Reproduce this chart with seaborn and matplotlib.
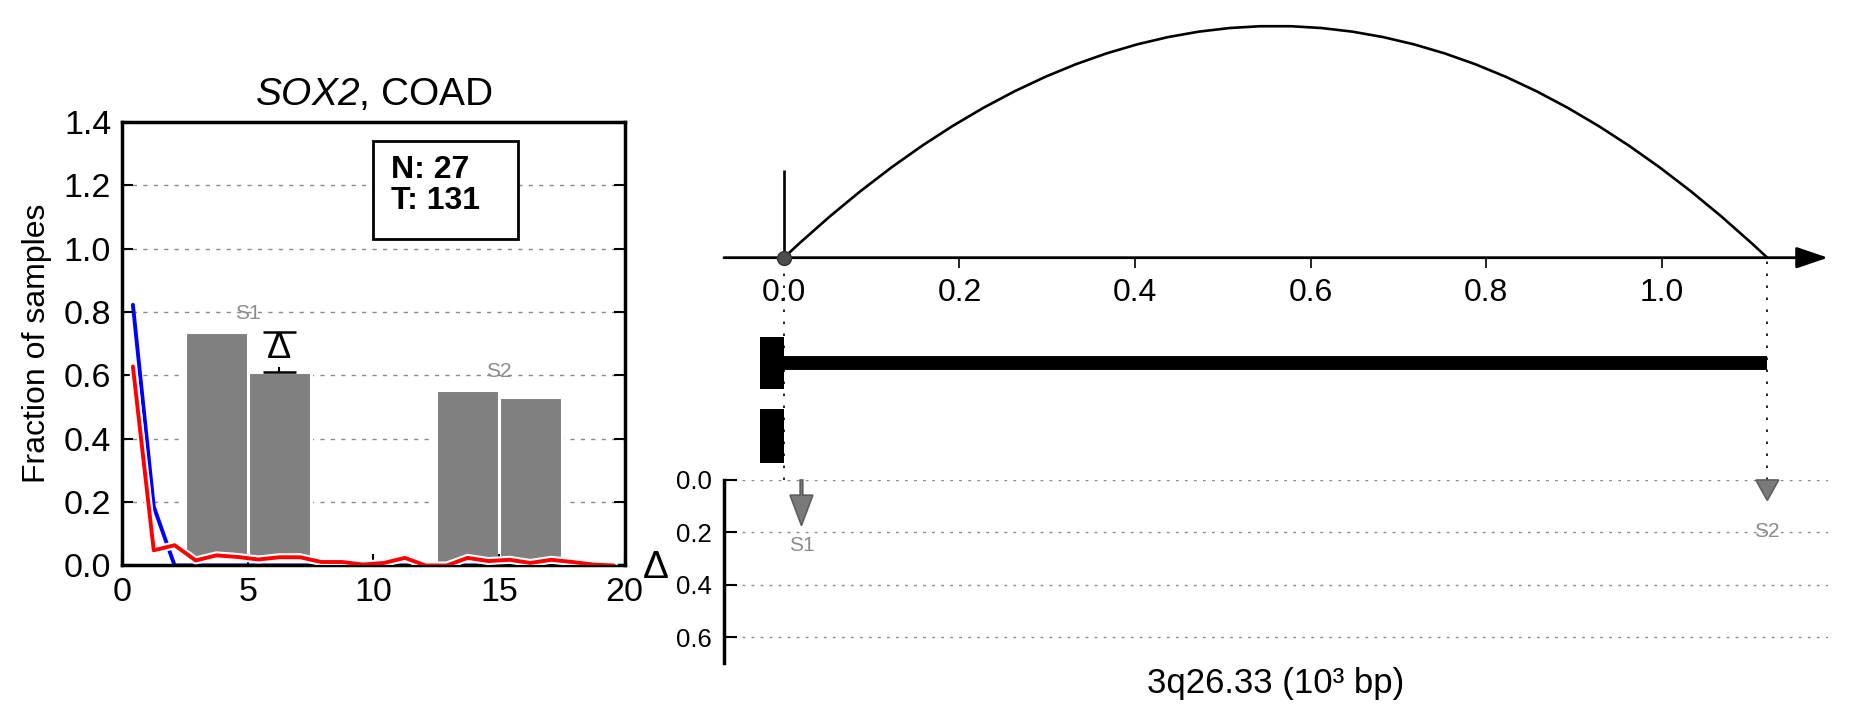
import numpy as np
import pandas as pd
import matplotlib
matplotlib.use("Agg")
import matplotlib.pyplot as plt
import seaborn as sns
from matplotlib.patches import Rectangle, PathPatch, FancyArrow
from matplotlib.path import Path
import matplotlib.patheffects as pe

# ---------------- data ----------------
gene = "SOX2"
cancer = "COAD"
n_normal = 27
n_tumor = 131

cn_bins = [0.42, 1.25, 2.08, 2.92, 3.75, 4.58, 5.42, 6.25, 7.08, 7.92, 8.75, 9.58,
           10.42, 11.25, 12.08, 12.92, 13.75, 14.58, 15.42, 16.25, 17.08, 17.92, 18.75, 19.58]
normal_frac = [0.823, 0.186, 0.0, 0.0, 0.0, 0.0, 0.0, 0.0, 0.0, 0.0, 0.0, 0.0,
               0.0, 0.0, 0.0, 0.0, 0.0, 0.0, 0.0, 0.0, 0.0, 0.0, 0.0, 0.0]
tumor_frac = [0.628, 0.048, 0.064, 0.016, 0.032, 0.027, 0.019, 0.026, 0.026, 0.011, 0.011, 0.003,
              0.008, 0.024, 0.0, 0.0, 0.024, 0.014, 0.018, 0.008, 0.018, 0.011, 0.003, 0.0]

bar_pos = [3.75, 6.25, 13.75, 16.25]
bar_frac = [0.738, 0.612, 0.554, 0.533]
bar_segment = ["S1", "S1", "S2", "S2"]
segments = ["S1", "S2"]
segment_label_x = [5.0, 15.0]
frac_ticks = [0.0, 0.2, 0.4, 0.6, 0.8, 1.0, 1.2, 1.4]

locus = "3q26.33"
axis_ticks_kb = [0.0, 0.2, 0.4, 0.6, 0.8, 1.0]
breakpoints_kb = [0.0, 1.12]
exon_kb = [-0.027, 0.0]
sv_pos_kb = [0.020, 1.12]
sv_delta = [0.174, 0.078]
sv_label_delta = [0.25, 0.197]
delta_ticks = [0.0, 0.2, 0.4, 0.6]

# ---------------- style ----------------
sns.set_theme(style="white")
plt.rcParams.update({
    "font.family": ["Liberation Sans", "DejaVu Sans"],
    "mathtext.fontset": "custom",
    "mathtext.rm": "Liberation Sans:italic",
    "mathtext.it": "Liberation Sans:italic",
    "mathtext.bf": "Liberation Sans:bold",
    "axes.edgecolor": "black",
    "text.color": "black",
    "axes.labelcolor": "black",
    "xtick.color": "black",
    "ytick.color": "black",
})

fig = plt.figure(figsize=(18.51, 7.18), dpi=100)

# ================= left panel =================
axL = fig.add_axes([0.0661, 0.2124, 0.2713, 0.6177])
# dashed horizontal guides (behind everything)
for v in frac_ticks[1:-1]:
    axL.axhline(v, linestyle=(0, (3, 4.5)), color="#8a8a8a", lw=1.0, zorder=0.3)

sns.barplot(x=bar_pos, y=bar_frac, native_scale=True, orient="v", color="#808080",
            saturation=1, width=1.0, edgecolor="white", linewidth=2.2,
            errorbar=None, ax=axL, zorder=1)
cn = np.array(cn_bins)
tf = np.array(tumor_frac)
axL.fill_between(cn, 0, tf, where=cn >= 2.0, color="white", lw=0, zorder=1.5)
sns.lineplot(x=cn_bins, y=normal_frac, color="blue", lw=2.8, ax=axL, zorder=2)
sns.lineplot(x=cn_bins, y=tumor_frac, color="red", lw=2.8, ax=axL, zorder=3,
             path_effects=[pe.Stroke(linewidth=5.8, foreground="white"), pe.Normal()])

# delta bracket between the two S1 bars
c = bar_pos[1]
hi, lo = bar_frac[0], bar_frac[1]
axL.hlines([hi, lo], c - 0.65, c + 0.65, color="black", lw=1.8, zorder=4)
axL.vlines(c, hi - 0.01, hi, color="black", lw=1.5, zorder=4)
axL.vlines(c, lo, lo + 0.015, color="black", lw=1.5, zorder=4)
axL.text(c, lo + 0.042, "Δ", ha="center", va="baseline", fontsize=26, zorder=4)

for name, lx in zip(segments, segment_label_x):
    top = max(h for h, s in zip(bar_frac, bar_segment) if s == name)
    axL.text(lx, top + 0.057, name, color="#8c8c8c", fontsize=15, ha="center", va="center", zorder=4)

axL.add_patch(Rectangle((10.0, 1.031), 5.76, 0.309, facecolor="white", edgecolor="black",
                        lw=2, zorder=4))
axL.text(10.7, 1.2, f"N: {n_normal}\nT: {n_tumor}", fontsize=23, fontweight="bold",
         ha="left", va="center", linespacing=1.05, zorder=5)

axL.set_xlim(0, 20)
axL.set_ylim(0, 1.4)
axL.set_xticks([0, 5, 10, 15, 20])
axL.set_xticklabels(["0", "5", "10", "15", "20"])
axL.set_yticks(frac_ticks)
axL.set_yticklabels([f"{v:.1f}" for v in frac_ticks])
axL.tick_params(axis="both", direction="in", length=8, width=1.5, labelsize=24.5,
                left=True, right=True, bottom=True, top=False, pad=8)
axL.set_axisbelow(False)
axL.grid(False)
for sp in axL.spines.values():
    sp.set_linewidth(2.5)
    sp.set_color("black")
axL.set_xlabel("")
axL.set_ylabel("Fraction of samples", fontsize=23)
axL.yaxis.set_label_coords(-0.14, 0.5)
axL.set_title(f"${gene}$, {cancer}", fontsize=28, pad=12)

# ================= right top panel =================
xlim = (-0.0683, 1.189)
axT = fig.add_axes([0.3911, 0.3315, 0.5964, 0.6685])
axT.set_xlim(*xlim)
axT.set_ylim(-222.3, 257.7)
axT.axis("off")

# arc linking the two breakpoints
mid = (breakpoints_kb[0] + breakpoints_kb[1]) / 2
arc = Path([(breakpoints_kb[0], 0), (mid, 463.4), (breakpoints_kb[1], 0)],
           [Path.MOVETO, Path.CURVE3, Path.CURVE3])
axT.add_patch(PathPatch(arc, fill=False, edgecolor="black", lw=1.9, zorder=3))

# genomic axis with arrow
axT.annotate("", xy=(xlim[1], 0), xytext=(xlim[0], 0),
             arrowprops=dict(arrowstyle="-|>,head_length=0.97,head_width=0.33",
                             mutation_scale=20, lw=2, color="black",
                             shrinkA=0, shrinkB=0),
             annotation_clip=False, zorder=3)
axT.vlines(axis_ticks_kb[1:], -10, 0, color="black", lw=1.2, zorder=3)
for t in axis_ticks_kb:
    axT.text(t, -35.6, f"{t:.1f}", ha="center", va="center", fontsize=23, zorder=4)

axT.vlines(breakpoints_kb[0], 0, 87.7, color="black", lw=1.9, zorder=3)
axT.plot([breakpoints_kb[0]], [0], "o", ms=10, mfc="#4d4d4d", mec="#333333", mew=1, zorder=5)

# dotted guides
axT.vlines(breakpoints_kb, -222.3, 0, colors="black", lw=1.2,
           linestyles=[(0, (1.5, 5.7))], zorder=1)

# gene tracks
axT.hlines(-105.6, breakpoints_kb[0], breakpoints_kb[1], color="black", lw=10, zorder=3)
axT.add_patch(Rectangle((exon_kb[0], -131.6), exon_kb[1] - exon_kb[0], 52.0,
                        color="black", lw=0, zorder=3))
axT.add_patch(Rectangle((exon_kb[0], -205.0), exon_kb[1] - exon_kb[0], 53.4,
                        color="black", lw=0, zorder=3))

# ================= right bottom (delta) panel =================
axD = fig.add_axes([0.3911, 0.0762, 0.5964, 0.2553])
axD.set_xlim(*xlim)
axD.set_ylim(0.70, 0.0)
axD.set_yticks(delta_ticks)
axD.set_yticklabels([f"{v:.1f}" for v in delta_ticks])
axD.set_xticks([])
axD.tick_params(axis="y", direction="in", length=9, width=1.5, labelsize=18.5, pad=9, left=True)
for name in ["top", "right", "bottom"]:
    axD.spines[name].set_visible(False)
axD.spines["left"].set_linewidth(2.5)
axD.spines["left"].set_color("black")
axD.set_axisbelow(True)
axD.yaxis.grid(True, linestyle=(0, (2, 4.5)), color="#8a8a8a", lw=1.0)
axD.xaxis.grid(False)
axD.patch.set_alpha(0)

for x, d, ly, name in zip(sv_pos_kb, sv_delta, sv_label_delta, segments):
    hl = min(0.116, d)
    axD.add_patch(FancyArrow(x, 0, 0, d, width=0.003, head_width=0.026, head_length=hl,
                             length_includes_head=True, facecolor="#7a7a7a",
                             edgecolor="#5e5e5e", lw=1.2, clip_on=False, zorder=3))
    axD.text(x, ly, name, color="#8c8c8c", fontsize=15, ha="center", va="center", zorder=4)

axD.set_ylabel("Δ", rotation=0, fontsize=28)
axD.yaxis.label.set_va("center")
axD.yaxis.set_label_coords(-0.062, 0.52)
axD.set_xlabel(f"{locus} (10\u00b3 bp)", fontsize=25, labelpad=3)

fig.savefig("out.png", dpi=100)
